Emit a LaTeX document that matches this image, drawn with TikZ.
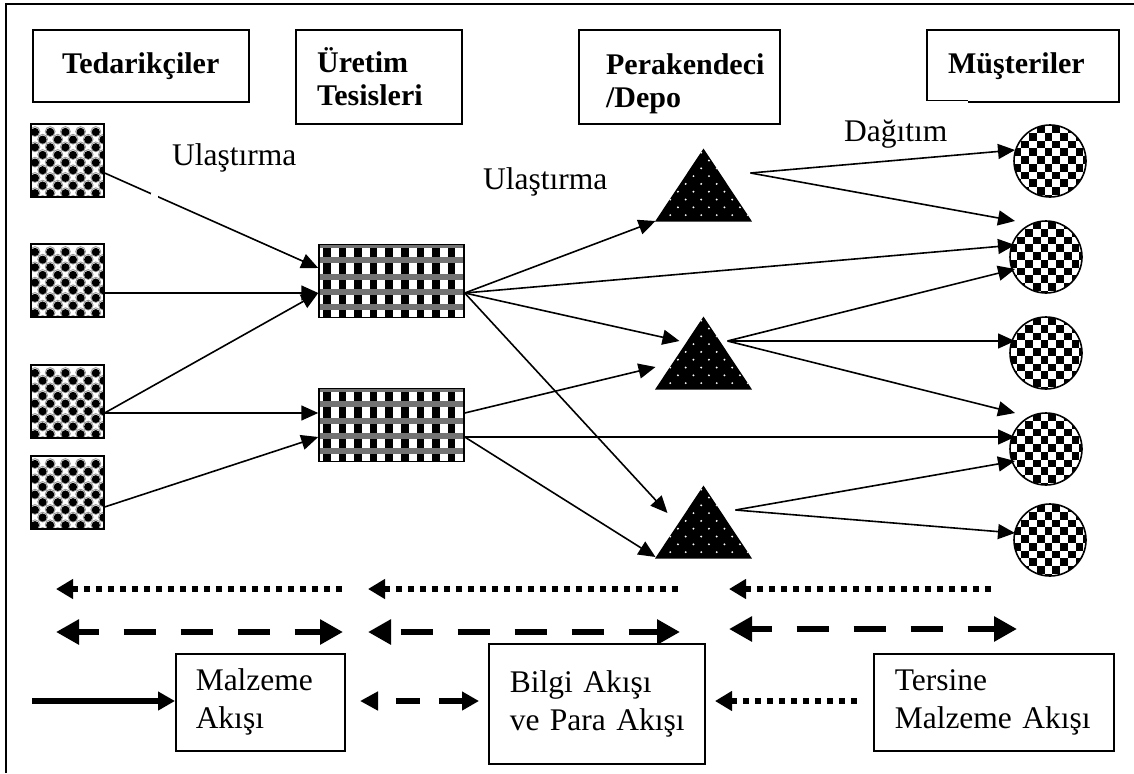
\documentclass[tikz,border=0pt]{standalone}
\usepackage{fontspec}
\setmainfont{Liberation Serif}
\usetikzlibrary{arrows.meta,shapes.geometric,calc}
\tikzset{
  ballfill/.style={path picture={
    \begin{scope}[shift={(path picture bounding box.center)}]
      \foreach \r in {-5,...,5}{
        \pgfmathsetmacro{\off}{mod(\r+11,2)*7.6}
        \foreach \c in {-3,...,3}{
          \pgfmathsetmacro{\bx}{\c*15.2+\off+13.1}
          \pgfmathsetmacro{\by}{\r*7.65+9.3}
          \draw[gray!80,line width=0.9pt] (\bx,\by) circle (4.9);
          \fill[black] (\bx,\by+0.4) circle (4.1);
        }
      }
    \end{scope}}},
  plantfill/.style={path picture={
    \begin{scope}[shift={(path picture bounding box.center)}]
      \foreach \c in {-6,...,6}{
        \fill[black] (\c*15.6-6.1,-40) rectangle ++(7.5,80);
      }
      \fill[black!55] (-80,-37) rectangle (80,-33);
      \foreach \b in {-24,-7,8,23}{
        \fill[black!55] (-80,\b) rectangle (80,\b+6);
      }
    \end{scope}}},
  dotfill/.style={path picture={
    \begin{scope}[shift={(path picture bounding box.center)}]
      \foreach \r in {-6,...,6}{
        \pgfmathsetmacro{\off}{mod(\r+12,2)*7.75}
        \foreach \c in {-5,...,5}{
          \fill[white] (\c*15.5+\off-2.3,\r*7.8+4) circle (1.05);
        }
      }
    \end{scope}}},
  checkfill/.style={path picture={
    \begin{scope}[shift={(path picture bounding box.center)}]
      \foreach \r in {-6,...,6}{
        \pgfmathsetmacro{\off}{mod(\r+13,2)*7.75}
        \foreach \c in {-4,...,4}{
          \fill[black] (\c*15.5+\off-1.5-3.9,\r*7.75-3.9-1) rectangle ++(7.75,7.75);
        }
      }
    \end{scope}}},
  supplier/.style={draw=black,line width=1.2pt,fill=white,rectangle,minimum width=73pt,minimum height=73pt,inner sep=0pt,ballfill},
  plant/.style={draw=black,line width=1.5pt,fill=white,rectangle,minimum width=145pt,minimum height=73pt,inner sep=0pt,plantfill},
  store/.style={isosceles triangle,isosceles triangle stretches,shape border rotate=90,fill=black,minimum width=97pt,minimum height=73pt,inner sep=0pt,anchor=apex,dotfill},
  customer/.style={circle,draw=black,line width=1.6pt,fill=white,minimum size=72pt,inner sep=0pt,checkfill},
  headbox/.style={draw=black,line width=2.2pt,rectangle,anchor=north west,align=left,font=\fontsize{30}{33}\selectfont\bfseries,inner ysep=0pt},
  legendbox/.style={draw=black,line width=1.5pt,rectangle,anchor=north west,align=left,font=\fontsize{31.5}{38}\selectfont,inner ysep=0pt},
  plainlabel/.style={font=\fontsize{31.5}{36}\selectfont,inner sep=0pt,anchor=base west},
  flow/.style={line width=1.6pt,-{Triangle[length=17pt,width=15pt]}},
  dotflow/.style={line width=6pt,dash pattern=on 6pt off 6pt,{Triangle[length=17pt,width=19pt]}-},
  dashflow/.style={line width=6pt,dash pattern=on 32pt off 25pt,dash phase=11pt,{Triangle[length=23pt,width=24pt]}-{Triangle[length=23pt,width=24pt]}},
  dashgap/.style={dash phase=46pt},
  smalldash/.style={line width=6pt,dash pattern=on 24pt off 19pt,dash phase=24pt,{Triangle[length=18pt,width=18pt]}-{Triangle[length=17pt,width=18pt]}},
  solidflow/.style={line width=6pt,-{Triangle[length=17pt,width=18pt]}},
}
\begin{document}
\begin{tikzpicture}[x=1pt,y=-1pt]
\useasboundingbox (0,0) rectangle (1134,773);
% frame: only the top and left edges are drawn
\coordinate (ftl) at (6,4);
\coordinate (ftr) at (1134,4);
\coordinate (fbl) at (6,773);
\draw[line width=2pt] (fbl) -- (ftl) -- (ftr);
% headers
\node[headbox,inner xsep=29pt,minimum width=216pt,minimum height=72pt,text width=158pt] (h1) at (32,29) {Tedarikçiler\\[6pt]};
\node[headbox,inner xsep=21pt,minimum width=166pt,minimum height=94pt,text width=124pt] (h2) at (295,29) {Üretim\\Tesisleri\\[13pt]};
\node[headbox,inner xsep=27pt,minimum width=201pt,minimum height=94pt,text width=147pt] (h3) at (578,29) {\rule{0pt}{34pt}Perakendeci\\/Depo};
\node[headbox,inner xsep=21pt,minimum width=192pt,minimum height=72pt,text width=150pt] (h4) at (926,29) {Müşteriler\\[8pt]};
\fill[white] (925,99.6) rectangle (968,102.6);
\fill[black] (925.9,99.8) rectangle (968,101);
% labels
\node[plainlabel] (l1) at (172,165) {Ulaştırma};
\node[plainlabel] (l2) at (483,189) {Ulaştırma};
\node[plainlabel] (l3) at (844,141) {Dağıtım};
% suppliers
\node[supplier] (s1) at (67.5,160.5) {};
\node[supplier] (s2) at (67.5,280.5) {};
\node[supplier] (s3) at (67.5,401.5) {};
\node[supplier] (s4) at (67.5,492.5) {};
% plants
\node[plant] (p1) at (391.5,281) {};
\node[plant] (p2) at (391.5,425) {};
% stores
\node[store] (t1) at (703.5,148) {};
\node[store] (t2) at (703.5,316) {};
\node[store] (t3) at (703.5,485) {};
% customers
\node[customer] (c1) at (1050,161) {};
\node[customer] (c2) at (1046,257) {};
\node[customer] (c3) at (1046,353) {};
\node[customer] (c4) at (1046,449) {};
\node[customer] (c5) at (1050,540) {};
% ports
\coordinate (s1o) at ($(s1.east)+(0,12.5)$);
\coordinate (s2o) at ($(s2.east)+(0,12.5)$);
\coordinate (s3o) at ($(s3.east)+(0,11.5)$);
\coordinate (s4o) at ($(s4.east)+(0,14.5)$);
\coordinate (p1a) at ($(p1.west)+(0,-13)$);
\coordinate (p1b) at ($(p1.west)+(0,12)$);
\coordinate (p1o) at ($(p1.east)+(0,12)$);
\coordinate (p2a) at ($(p2.west)+(0,-12)$);
\coordinate (p2b) at ($(p2.west)+(0,12)$);
\coordinate (p2o) at ($(p2.east)+(0,12)$);
\coordinate (p2u) at ($(p2.east)+(0,-12)$);
\coordinate (t1i) at ($(t1.apex)+(-48,73)$);
\coordinate (t1o) at ($(t1.apex)+(47,25)$);
\coordinate (t2i) at ($(t2.apex)+(-24,25)$);
\coordinate (t2b) at ($(t2.apex)+(-48,51)$);
\coordinate (t2o) at ($(t2.apex)+(24,25)$);
\coordinate (t3a) at ($(t3.apex)+(-36,28)$);
\coordinate (t3i) at ($(t3.apex)+(-48,72)$);
\coordinate (t3o) at ($(t3.apex)+(32,25)$);
\coordinate (c1a) at ($(c1)+(-35,-11)$);
\coordinate (c2t) at ($(c2)+(-31,-36)$);
\coordinate (c2a) at ($(c2)+(-31,-12)$);
\coordinate (c2b) at ($(c2)+(-31,12)$);
\coordinate (c3a) at ($(c3)+(-31,-12)$);
\coordinate (c4t) at ($(c4)+(-31,-36)$);
\coordinate (c4a) at ($(c4)+(-31,-12)$);
\coordinate (c4b) at ($(c4)+(-31,12)$);
\coordinate (c5a) at ($(c5)+(-35,-7)$);
% connectors
\draw[flow] (s1o) -- (p1a);
\draw[flow] (s2o) -- (p1b);
\draw[flow] (s3o) -- (p1b);
\draw[flow] (s3o) -- (p2a);
\draw[flow] (s4o) -- (p2b);
\draw[flow] (p1o) -- (t1i);
\draw[flow] (p1o) -- (c2a);
\draw[flow] (p1o) -- (t2i);
\draw[flow] (p1o) -- (t3a);
\draw[flow] (p2u) -- (t2b);
\draw[flow] (p2o) -- (c4a);
\draw[flow] (p2o) -- (t3i);
\draw[flow] (t1o) -- (c1a);
\draw[flow] (t1o) -- (c2t);
\draw[flow] (t2o) -- (c2b);
\draw[flow] (t2o) -- (c3a);
\draw[flow] (t2o) -- (c4t);
\draw[flow] (t3o) -- (c4b);
\draw[flow] (t3o) -- (c5a);
% gap in first connector
\fill[white] (151,193) rectangle (158,200);
% flow rows
\coordinate (r1a) at (56,589); \coordinate (r1b) at (344,589);
\coordinate (r2a) at (368,589); \coordinate (r2b) at (681,589);
\coordinate (r3a) at (729,589); \coordinate (r3b) at (994,589);
\draw[dotflow] (r1a) -- (r1b);
\draw[dotflow] (r2a) -- (r2b);
\draw[dotflow] (r3a) -- (r3b);
\coordinate (d1a) at (56,632); \coordinate (d1b) at (343,632);
\coordinate (d2a) at (368,632); \coordinate (d2b) at (680,632);
\coordinate (d3a) at (729,629); \coordinate (d3b) at (1017,629);
\draw[dashflow] (d1a) -- (d1b);
\draw[dashflow,dashgap] (d2a) -- (d2b);
\draw[dashflow] (d3a) -- (d3b);
% legend
\node[legendbox,inner xsep=20pt,minimum width=169pt,minimum height=97pt,text width=129pt] (m) at (175,653) {Malzeme\\Akışı\\[8pt]};
\node[legendbox,inner xsep=21pt,minimum width=216pt,minimum height=120pt,text width=174pt] (b) at (488,643) {\mbox{Bilgi Akışı}\\\mbox{ve Para Akışı}\\[12pt]};
\node[legendbox,inner xsep=21pt,minimum width=240pt,minimum height=97pt,text width=198pt] (t) at (873,653) {Tersine\\Malzeme Akışı\\[8pt]};
\coordinate (ls) at (32,701);
\coordinate (ld1) at (360,701); \coordinate (ld2) at (479,701);
\coordinate (lt) at (860,701);
\coordinate (lh) at (715,701);
\draw[solidflow] (ls) -- (m.west |- ls);
\draw[smalldash] (ld1) -- (ld2);
\draw[dotflow] (lh) -- (lt);
\end{tikzpicture}
\end{document}
